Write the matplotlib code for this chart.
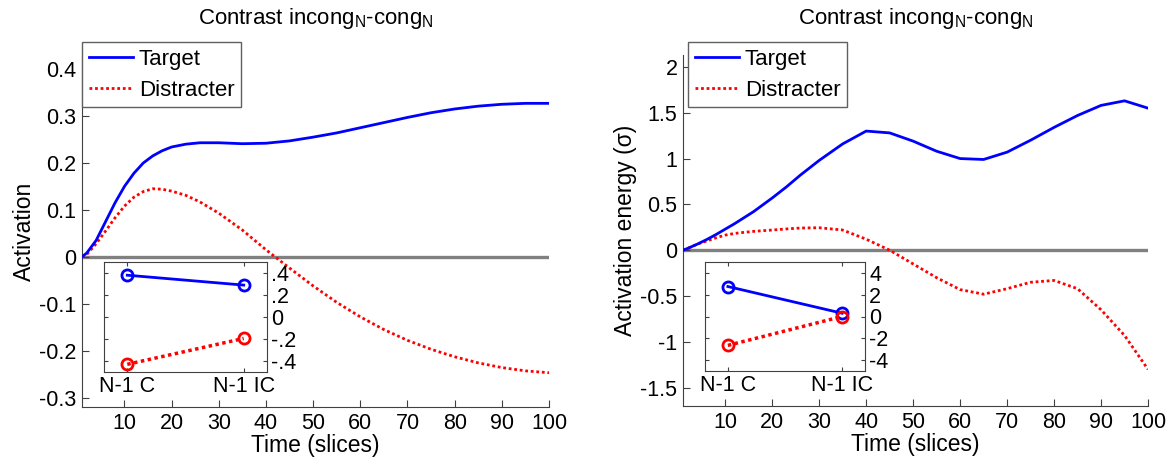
import matplotlib
matplotlib.use("Agg")
import matplotlib.pyplot as plt

plt.rcParams['font.family'] = ['Liberation Sans', 'DejaVu Sans']
plt.rcParams['mathtext.fontset'] = 'custom'
plt.rcParams['mathtext.rm'] = 'Liberation Sans'
plt.rcParams['mathtext.it'] = 'Liberation Sans:italic'

# ---- data ----
time = [1, 2, 4, 6, 8, 10, 12, 14, 16, 18, 20, 23, 26, 30, 35, 40, 45, 50,
        55, 60, 65, 70, 75, 80, 85, 90, 95, 100]

left_target = [0, 0.008, 0.035, 0.075, 0.115, 0.15, 0.178, 0.2, 0.215, 0.226, 0.234, 0.24,
               0.243, 0.243, 0.241, 0.242, 0.247, 0.255, 0.264, 0.275, 0.286, 0.297,
               0.307, 0.315, 0.321, 0.325, 0.327, 0.327]
left_distr = [0, 0.005, 0.028, 0.055, 0.083, 0.108, 0.127, 0.139, 0.145, 0.144, 0.14, 0.131,
              0.117, 0.093, 0.057, 0.015, -0.024, -0.062, -0.097, -0.128, -0.155, -0.178,
              -0.197, -0.213, -0.226, -0.236, -0.243, -0.247]

right_target = [0, 0.02, 0.065, 0.115, 0.17, 0.23, 0.29, 0.355, 0.42, 0.495, 0.57, 0.69,
                0.82, 0.98, 1.16, 1.30, 1.28, 1.19, 1.08, 1.0, 0.99, 1.07, 1.2, 1.34,
                1.47, 1.58, 1.63, 1.55]
right_distr = [0, 0.02, 0.065, 0.1, 0.135, 0.165, 0.183, 0.195, 0.205, 0.213, 0.22, 0.232,
               0.242, 0.245, 0.22, 0.12, 0.0, -0.15, -0.3, -0.43, -0.48, -0.42, -0.35,
               -0.33, -0.42, -0.65, -0.93, -1.3]

inset_cats = ['N-1 C', 'N-1 IC']
left_inset_target = [0.38, 0.29]
left_inset_distr = [-0.43, -0.195]
right_inset_target = [2.75, 0.3]
right_inset_distr = [-2.65, 0.0]

title = r'Contrast incong$_{\rm N}$-cong$_{\rm N}$'

W, H = 1174, 466
fig = plt.figure(figsize=(W / 100, H / 100), dpi=100)

SPINE = '#404040'
RED_DOT = (0, (1, 1))


def px_rect(x0, y0, x1, y1):
    return [x0 / W, (H - y1) / H, (x1 - x0) / W, (y1 - y0) / H]


def main_panel(rect, tgt, dst, ylim, yticks, yticklabels, ylabel, leg_xy):
    ax = fig.add_axes(rect)
    ax.plot([time[0], time[-1]], [0, 0], color='#808080', lw=2.4, zorder=1)
    lt, = ax.plot(time, tgt, color='#0000ff', lw=2, label='Target', zorder=3)
    ld, = ax.plot(time, dst, color='#ff0000', lw=2, ls=RED_DOT, label='Distracter', zorder=2)
    ax.set_xlim(1, 100)
    ax.set_ylim(*ylim)
    ax.set_xticks(range(10, 101, 10))
    ax.set_yticks(yticks)
    ax.set_yticklabels(yticklabels)
    for s in ['top', 'right']:
        ax.spines[s].set_visible(False)
    for s in ['left', 'bottom']:
        ax.spines[s].set_color(SPINE)
    ax.tick_params(direction='in', length=5, color=SPINE, labelsize=15.5, pad=4)
    ax.set_xlabel('Time (slices)', fontsize=16.5, labelpad=0)
    ax.set_ylabel(ylabel, fontsize=16.5, labelpad=2)
    ax.set_title(title, fontsize=16, pad=22)
    leg = fig.legend(handles=[lt, ld], loc='upper left', bbox_to_anchor=leg_xy,
                     bbox_transform=fig.transFigure, fontsize=16, fancybox=False,
                     framealpha=1, edgecolor='#606060', handlelength=2.0,
                     handletextpad=0.25, borderpad=0.3, labelspacing=0.45, borderaxespad=0)
    leg.get_frame().set_linewidth(1)
    return ax


def inset(rect, tgt, dst, ylim, yticks, yticklabels):
    ax = fig.add_axes(rect)
    xs = [1, 2]
    ax.plot(xs, tgt, color='#0000ff', lw=2, marker='o', ms=8, mfc='none', mew=2)
    ax.plot(xs, dst, color='#ff0000', lw=2.5, ls=RED_DOT, marker='o', ms=8, mfc='none', mew=2)
    ax.set_xlim(0.8, 2.2)
    ax.set_ylim(*ylim)
    ax.set_xticks(xs)
    ax.set_xticklabels(inset_cats)
    ax.set_yticks(yticks)
    ax.set_yticklabels(yticklabels)
    ax.yaxis.tick_right()
    for s in ax.spines.values():
        s.set_color(SPINE)
    ax.tick_params(direction='in', length=3, color=SPINE, labelsize=15.5,
                   top=True, bottom=True, left=True, right=True, pad=3)
    return ax


main_panel(px_rect(82, 55, 549, 407), left_target, left_distr,
           (-0.32, 0.43), [-0.3, -0.2, -0.1, 0, 0.1, 0.2, 0.3, 0.4],
           ['-0.3', '-0.2', '-0.1', '0', '0.1', '0.2', '0.3', '0.4'],
           'Activation', (82 / W, 1 - 42 / H))
inset(px_rect(104, 262, 267, 372), left_inset_target, left_inset_distr,
      (-0.5, 0.5), [-0.4, -0.2, 0, 0.2, 0.4], ['-.4', '-.2', '0', '.2', '.4'])

main_panel(px_rect(683, 55, 1148, 406), right_target, right_distr,
           (-1.7, 2.13), [-1.5, -1, -0.5, 0, 0.5, 1, 1.5, 2],
           ['-1.5', '-1', '-0.5', '0', '0.5', '1', '1.5', '2'],
           'Activation energy (σ)', (688 / W, 1 - 42 / H))
inset(px_rect(705, 262, 865, 371), right_inset_target, right_inset_distr,
      (-5, 5), [-4, -2, 0, 2, 4], ['-4', '-2', '0', '2', '4'])

fig.savefig('out.png', dpi=100)
